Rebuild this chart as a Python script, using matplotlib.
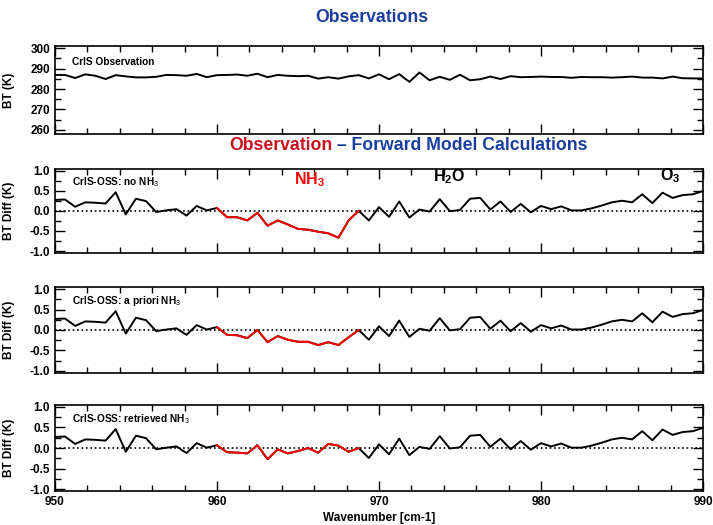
import numpy as np
import matplotlib.pyplot as plt
from matplotlib.ticker import MultipleLocator

plt.rcParams['font.family'] = ['Liberation Sans', 'DejaVu Sans']
plt.rcParams['mathtext.fontset'] = 'custom'
plt.rcParams['mathtext.rm'] = 'Liberation Sans'
plt.rcParams['mathtext.bf'] = 'Liberation Sans:bold'

# CrIS channel grid, 0.625 cm-1 spacing
wavenumber = np.arange(65) * 0.625 + 950.0

# observed brightness temperature (K)
bt_obs = [286.9, 286.9, 285.4, 287.2, 286.5, 284.9, 286.8, 286.2, 285.7, 285.7,
          286.0, 286.9, 286.8, 286.5, 287.4, 285.8, 286.8, 286.9, 287.1, 286.5,
          287.5, 285.8, 286.9, 286.5, 286.3, 286.5, 285.1, 285.8, 285.1, 286.2,
          286.8, 285.2, 287.2, 284.8, 287.3, 283.5, 288.1, 284.3, 286.0, 284.5,
          287.0, 284.3, 284.8, 286.1, 284.9, 286.3, 285.8, 285.9, 286.1, 285.9,
          285.9, 285.5, 285.9, 285.8, 285.8, 285.6, 285.8, 286.1, 285.6, 285.6,
          285.2, 286.1, 285.3, 285.2, 285.2]

# obs - calc residuals outside the NH3 window (same in every run)
resid_lo = [0.27, 0.28, 0.10, 0.21, 0.20, 0.18, 0.46, -0.09, 0.30, 0.24,
            -0.03, 0.01, 0.04, -0.12, 0.12, 0.01, 0.07]
resid_hi = [0.0, -0.24, 0.09, -0.15, 0.23, -0.17, 0.03, -0.02, 0.29, -0.01,
            0.02, 0.30, 0.32, 0.03, 0.23, -0.03, 0.17, -0.04, 0.12, 0.04,
            0.11, 0.01, 0.01, 0.06, 0.13, 0.21, 0.25, 0.21, 0.41, 0.19,
            0.45, 0.32, 0.39, 0.41, 0.49]

# residuals inside the NH3 window (960 - 968.75 cm-1) for each model run
nh3_none = [0.07, -0.16, -0.16, -0.24, -0.05, -0.37, -0.24, -0.34, -0.45, -0.47,
            -0.52, -0.56, -0.67, -0.24, 0.0]
nh3_apriori = [0.07, -0.12, -0.13, -0.20, 0.0, -0.30, -0.15, -0.24, -0.29, -0.29,
               -0.37, -0.30, -0.37, -0.18, 0.0]
nh3_retrieved = [0.07, -0.10, -0.11, -0.13, 0.07, -0.27, -0.03, -0.13, -0.07, 0.0,
                 -0.11, 0.10, 0.06, -0.09, 0.0]

run_labels = ['CrIS-OSS: no NH$_3$', 'CrIS-OSS: a priori NH$_3$',
              'CrIS-OSS: retrieved NH$_3$']

i0, i1 = len(resid_lo) - 1, len(resid_lo) - 1 + len(nh3_none) - 1

blue = '#1a3f9e'
red_title = '#c8101e'

fig = plt.figure(figsize=(7.13, 5.25), dpi=100)
left, width = 0.077, 0.909
boxes = [(0.745, 0.167), (0.518, 0.161), (0.290, 0.163), (0.064, 0.165)]
axes = [fig.add_axes([left, b, width, h]) for b, h in boxes]


def style_axis(ax):
    ax.set_xlim(950, 990)
    ax.xaxis.set_major_locator(MultipleLocator(10))
    ax.xaxis.set_minor_locator(MultipleLocator(2))
    ax.tick_params(which='both', direction='in', top=True, right=True,
                   labelsize=8.5, width=1.0)
    ax.tick_params(which='major', length=7)
    ax.tick_params(which='minor', length=4)
    for sp in ax.spines.values():
        sp.set_linewidth(1.2)
    for lab in ax.get_xticklabels() + ax.get_yticklabels():
        lab.set_fontweight('bold')


# observation panel
ax = axes[0]
ax.plot(wavenumber, bt_obs, color='black', lw=1.4)
ax.set_ylim(258, 301)
ax.yaxis.set_major_locator(MultipleLocator(10))
ax.yaxis.set_minor_locator(MultipleLocator(5))
ax.set_ylabel('BT (K)', fontsize=8.5, fontweight='bold')
ax.yaxis.set_label_coords(-0.062, 0.5)
ax.text(0.026, 0.82, 'CrIS Observation', transform=ax.transAxes,
        fontsize=7.3, fontweight='bold', va='center')
ax.tick_params(labelbottom=False)
style_axis(ax)

# residual panels
for ax, seg, lab in zip(axes[1:], [nh3_none, nh3_apriori, nh3_retrieved], run_labels):
    resid = np.array(resid_lo[:-1] + seg + resid_hi[1:])
    ax.axhline(0, color='black', ls=':', lw=1.2)
    ax.plot(wavenumber, resid, color='black', lw=1.4)
    ax.plot(wavenumber[i0:i1 + 1], resid[i0:i1 + 1], color='red', lw=1.4)
    ax.set_ylim(-1.05, 1.05)
    ax.yaxis.set_major_locator(MultipleLocator(0.5))
    ax.yaxis.set_minor_locator(MultipleLocator(0.25))
    ax.yaxis.set_major_formatter(plt.FormatStrFormatter('%.1f'))
    ax.set_ylabel('BT Diff (K)', fontsize=8.5, fontweight='bold')
    ax.yaxis.set_label_coords(-0.062, 0.5)
    ax.text(0.026, 0.84, lab, transform=ax.transAxes,
            fontsize=7.3, fontweight='bold', va='center')
    if ax is not axes[-1]:
        ax.tick_params(labelbottom=False)
    style_axis(ax)

axes[-1].set_xlabel('Wavenumber [cm-1]', fontsize=8.5, fontweight='bold', labelpad=3)

# species labels on the first residual panel
axes[1].text(965.7, 0.78, r'$\mathbf{NH_3}$', color='red', fontsize=11.5,
             ha='center', va='center')
axes[1].text(974.3, 0.86, r'$\mathbf{H_2O}$', color='black', fontsize=11.5,
             ha='center', va='center')
axes[1].text(988.0, 0.88, r'$\mathbf{O_3}$', color='black', fontsize=11.5,
             ha='center', va='center')

# headings
fig.text(372 / 713, 1 - 18 / 525, 'Observations', color=blue, fontsize=12.7,
         fontweight='bold', ha='center', va='center')
fig.text(332 / 713, 1 - 145 / 525, 'Observation', color=red_title, fontsize=12.7,
         fontweight='bold', ha='right', va='center')
fig.text(332 / 713, 1 - 145 / 525, ' \u2013 Forward Model Calculations', color=blue,
         fontsize=12.7, fontweight='bold', ha='left', va='center')

fig.savefig('out.png', dpi=100)
